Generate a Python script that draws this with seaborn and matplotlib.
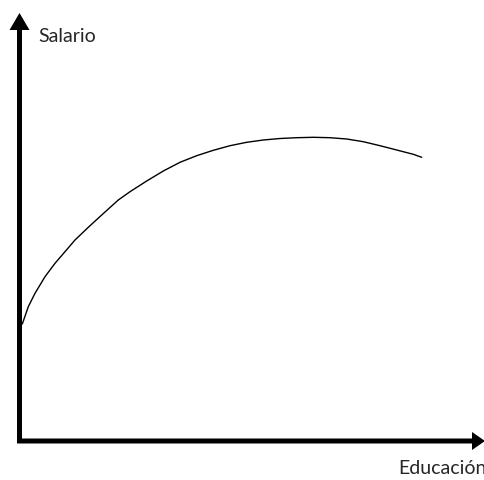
#!/usr/bin/env python3
"""
Salario vs Educación: concave curve drawn on hand-made arrow axes.
"""

import matplotlib

matplotlib.use("Agg")
import matplotlib.pyplot as plt
import pandas as pd
import seaborn as sns

educacion = [22.3, 28.3, 35, 45, 55, 65, 75, 88.3, 101.7, 118.3, 130,
             146.7, 163.3, 180, 196.7, 213.3, 230, 246.7, 263.3, 280,
             296.7, 313.3, 330, 346.7, 363.3, 380, 396.7, 413.3, 421.7]
salario = [156, 173.3, 186.7, 203.3, 216.7, 228.3, 240, 252.7, 265, 280,
           288.3, 299, 309, 317.7, 324.3, 329.7, 334.3, 337.7, 340, 341.5,
           342.3, 342.7, 342.3, 341, 338.3, 334.3, 330, 325.7, 322.7]

x_label = "Educación"
y_label = "Salario"


def main() -> None:
    df = pd.DataFrame({"educacion": educacion, "salario": salario})

    sns.set_theme(style="white")
    plt.rcParams["font.family"] = ["Lato", "DejaVu Sans"]

    fig = plt.figure(figsize=(4.85, 4.8), dpi=100)
    ax = fig.add_axes([0, 0, 1, 1])
    ax.set_xlim(0, 485)
    ax.set_ylim(0, 480)
    ax.axis("off")

    sns.lineplot(ax=ax, data=df, x="educacion", y="salario",
                 color="black", linewidth=1.0, sort=False)

    # arrow axes
    ax.arrow(19.5, 37, 0, 430, width=5, head_width=20, head_length=17,
             length_includes_head=True, fc="black", ec="none")
    ax.arrow(17, 39, 468, 0, width=5, head_width=18, head_length=13,
             length_includes_head=True, fc="black", ec="none")

    ax.text(38, 443, y_label, fontsize=14, va="center", ha="left")
    ax.text(398, 11, x_label, fontsize=14, va="center", ha="left")

    fig.savefig("out.png", dpi=100)


if __name__ == "__main__":
    main()
